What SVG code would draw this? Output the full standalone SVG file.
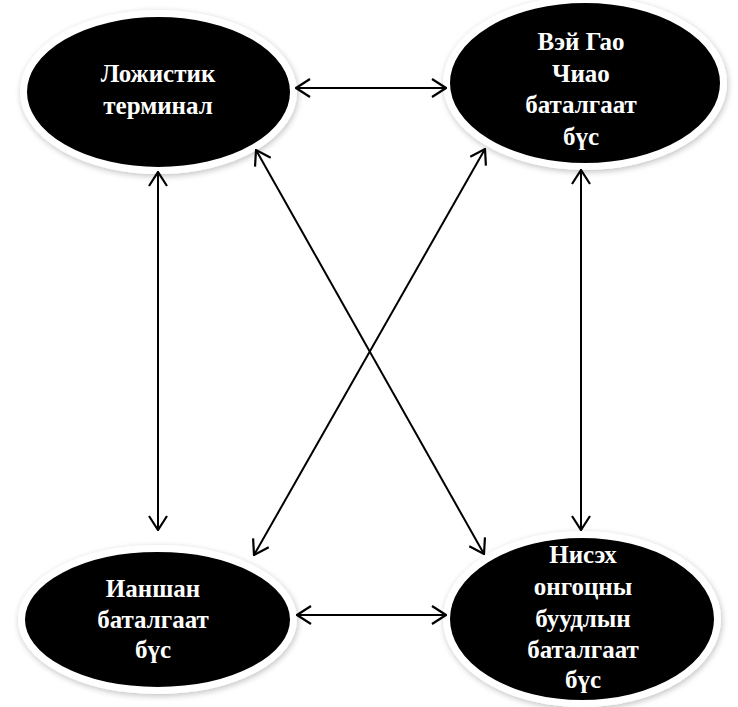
<svg xmlns="http://www.w3.org/2000/svg" width="738" height="707" viewBox="0 0 738 707">
<defs>
<filter id="sh" x="-20%" y="-20%" width="140%" height="140%">
<feGaussianBlur in="SourceAlpha" stdDeviation="3"/>
<feOffset dx="1" dy="2" result="b"/>
<feComponentTransfer><feFuncA type="linear" slope="0.25"/></feComponentTransfer>
<feMerge><feMergeNode/><feMergeNode in="SourceGraphic"/></feMerge>
</filter>
<marker id="ah" viewBox="0 0 16 20" refX="15" refY="10" markerWidth="16" markerHeight="20" markerUnits="userSpaceOnUse" orient="auto-start-reverse">
<path d="M1,1 L15,10 L1,19" fill="none" stroke="#000" stroke-width="2.2"/>
</marker>
</defs>
<style>
.node ellipse{fill:#000;stroke:#fff;stroke-width:7;filter:url(#sh)}
.node text{fill:#fff;font-family:"Liberation Serif","Times New Roman",serif;font-weight:bold;font-size:25px;text-anchor:middle}
.conn line{stroke:#000;stroke-width:2;marker-start:url(#ah);marker-end:url(#ah)}
</style>
<rect width="738" height="707" fill="#fff"/>
<g id="n1" class="node">
<ellipse cx="158.5" cy="92" rx="135" ry="78.5"/>
<text x="158" y="82">Ложистик</text>
<text x="158" y="114">терминал</text>
</g>
<g id="n2" class="node">
<ellipse cx="585" cy="83" rx="138.5" ry="83.5"/>
<text x="581" y="50">Вэй Гао</text>
<text x="581" y="82">Чиао</text>
<text x="581" y="113">баталгаат</text>
<text x="581" y="145">бүс</text>
</g>
<g id="n3" class="node">
<ellipse cx="157.5" cy="619.5" rx="136" ry="71"/>
<text x="153" y="597">Ианшан</text>
<text x="153" y="628">баталгаат</text>
<text x="153" y="658">бүс</text>
</g>
<g id="n4" class="node">
<ellipse cx="582" cy="619" rx="135.5" ry="84.5"/>
<text x="583" y="563">Нисэх</text>
<text x="583" y="595">онгоцны</text>
<text x="583" y="627">буудлын</text>
<text x="583" y="658">баталгаат</text>
<text x="583" y="688">бүс</text>
</g>
<g id="connectors" class="conn">
<line x1="296" y1="88" x2="446" y2="88"/>
<line x1="297" y1="615" x2="446" y2="615"/>
<line x1="158" y1="172" x2="158" y2="530"/>
<line x1="581" y1="170" x2="581" y2="530"/>
<line x1="256" y1="150" x2="484" y2="554"/>
<line x1="485" y1="149" x2="254" y2="555"/>
</g>
</svg>
